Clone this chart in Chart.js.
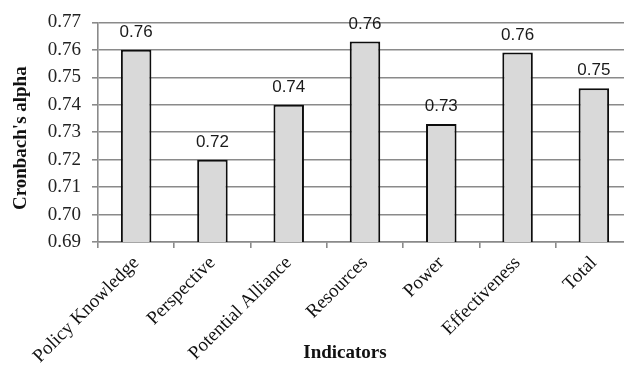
<!DOCTYPE html>
<html>
<head>
<meta charset="utf-8">
<script src="https://cdn.jsdelivr.net/npm/chart.js@4/dist/chart.umd.min.js"></script>
<style>
  html, body { margin: 0; padding: 0; background: #fff; overflow: hidden; }
  #wrap { width: 640px; height: 368px; }
</style>
</head>
<body>
<div id="wrap"><canvas id="c" width="640" height="368"></canvas></div>
<script>
// Reliability of each indicator scale
const categories = ['Policy Knowledge', 'Perspective', 'Potential Alliance', 'Resources', 'Power', 'Effectiveness', 'Total'];
const alphaValues = [0.760, 0.720, 0.740, 0.763, 0.733, 0.759, 0.746];
const yTicks = { min: 0.69, max: 0.77, step: 0.01 };
const xTitle = 'Indicators';
const yTitle = "Cronbach's alpha";

const GRID = '#8a8a8a';

// Value labels above bars and the two axis titles
const annotate = {
  id: 'annotate',
  afterDatasetsDraw(chart) {
    const ctx = chart.ctx;
    const meta = chart.getDatasetMeta(0);
    ctx.save();
    ctx.fillStyle = '#1a1a1a';
    ctx.font = '17px "Liberation Sans", Arial, sans-serif';
    ctx.textAlign = 'center';
    ctx.textBaseline = 'alphabetic';
    meta.data.forEach((bar, i) => {
      ctx.fillText(alphaValues[i].toFixed(2), bar.x, bar.y - 13);
    });
    ctx.restore();
  },
  afterDraw(chart) {
    const ctx = chart.ctx;
    const area = chart.chartArea;
    ctx.save();
    ctx.fillStyle = '#111';
    ctx.font = 'bold 19px "Liberation Serif", "Times New Roman", serif';
    ctx.textAlign = 'center';
    ctx.textBaseline = 'middle';
    ctx.fillText(xTitle, area.left + 247, chart.height - 15);
    ctx.translate(21, (area.top + area.bottom) / 2 + 6);
    ctx.rotate(-Math.PI / 2);
    ctx.fillText(yTitle, 0, 0);
    ctx.restore();
  }
};

new Chart(document.getElementById('c'), {
  type: 'bar',
  data: {
    labels: categories,
    datasets: [{
      data: alphaValues,
      backgroundColor: '#d9d9d9',
      borderColor: '#0d0d0d',
      borderWidth: 2,
      borderSkipped: 'bottom',
      barPercentage: 0.4,
      categoryPercentage: 1.0
    }]
  },
  options: {
    responsive: false,
    animation: false,
    events: [],
    layout: { padding: { top: 19, right: 8, left: 0, bottom: 0 } },
    plugins: { legend: { display: false }, tooltip: { enabled: false } },
    scales: {
      x: {
        grid: {
          offset: true,
          drawOnChartArea: false,
          drawTicks: true,
          tickLength: 6,
          color: GRID,
          lineWidth: 1.6
        },
        border: { display: true, color: GRID, width: 1.6 },
        ticks: {
          color: '#111',
          font: { family: '"Liberation Serif", "Times New Roman", serif', size: 19 },
          minRotation: 45,
          maxRotation: 45,
          padding: 4,
          autoSkip: false
        },
        afterFit(scale) { scale.height = 126; }
      },
      y: {
        min: yTicks.min,
        max: yTicks.max,
        grid: {
          color: GRID,
          lineWidth: 1.6,
          drawTicks: true,
          tickLength: 6
        },
        border: { display: true, color: GRID, width: 1.6 },
        ticks: {
          stepSize: yTicks.step,
          color: '#222',
          font: { family: '"Liberation Serif", "Times New Roman", serif', size: 19 },
          padding: 11,
          callback: (v) => Number(v).toFixed(2)
        },
        afterFit(scale) { scale.width = 98; }
      }
    }
  },
  plugins: [annotate]
});
</script>
</body>
</html>
